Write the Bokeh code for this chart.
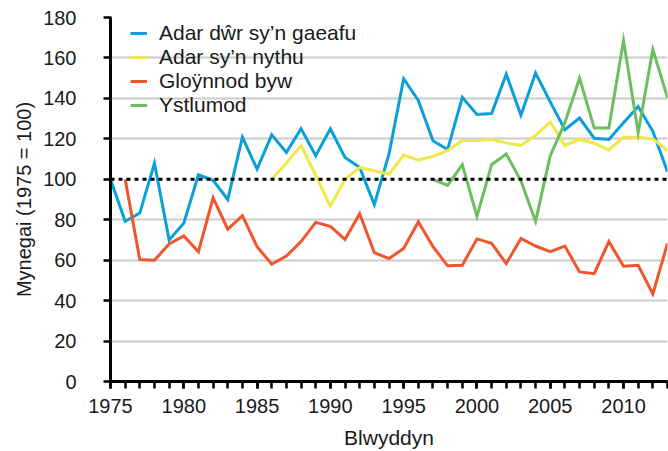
from bokeh.plotting import figure
from bokeh.models import Span, FixedTicker, Legend, LegendItem, Range1d, SingleIntervalTicker
from bokeh.embed import file_html
from bokeh.resources import INLINE

# ---- data ----
wintering_years = list(range(1975, 2014))
wintering = [100, 79.2, 83.3, 108, 70, 78.3, 102.2, 99.5, 90, 120.8,
             105, 122, 113.3, 125, 111.7, 125, 110.8, 105.8, 87.5, 112.5,
             149.7, 139, 119, 114.7, 140.5, 132, 132.5, 152, 131.7, 152.5,
             138.3, 124.5, 130.3, 120.3, 119.7, 128, 136, 123.7, 103.7]

breeding_years = list(range(1986, 2014))
breeding = [100, 108, 116.7, 102, 86.7, 100, 105.8, 104.2, 102.5, 112,
            109.5, 111.3, 114.2, 119.2, 119.2, 119.7, 118, 116.7, 121.7, 128.3,
            116.7, 119.7, 117.8, 114.5, 120.8, 120.8, 120, 114.2]

butterfly_years = list(range(1976, 2014))
butterflies = [100, 60.3, 60, 68, 72, 64.2, 90.8, 75.3, 82, 66.7,
               58, 62, 69.2, 78.7, 76.7, 70.3, 83, 63.7, 60.8, 65.8,
               79, 66.7, 57.2, 57.5, 70.5, 68.3, 58.3, 70.7, 67, 64.2,
               67, 54.2, 53.3, 69.2, 57, 57.5, 43.3, 68.3]

bat_years = list(range(1997, 2014))
bats = [100, 97, 107.2, 81.7, 107.2, 112.5, 99.2, 79.2, 111.7, 128,
        150, 125.3, 125.3, 168.7, 123, 164.2, 140.3]

labels = ["Adar dŵr sy’n gaeafu", "Adar sy’n nythu", "Gloÿnnod byw", "Ystlumod"]
colors = ["#0a9fdb", "#f0e84a", "#f2552c", "#6dbe5e"]
baseline = 100
y_ticks = [0, 20, 40, 60, 80, 100, 120, 140, 160, 180]

FONT = "Liberation Sans"
TXT = "#1a1a1a"

p = figure(width=668, height=451, output_backend="svg", toolbar_location=None,
           x_range=Range1d(1975, 2013), y_range=Range1d(0, 180),
           min_border_left=110, min_border_right=1, min_border_top=17,
           min_border_bottom=70)
p.outline_line_color = None
p.background_fill_color = "white"

# grid
p.xgrid.visible = False
p.ygrid.ticker = FixedTicker(ticks=[t for t in y_ticks if t != baseline])
p.ygrid.grid_line_color = "#cccccc"
p.ygrid.grid_line_width = 2

# axes
p.xaxis.ticker = SingleIntervalTicker(interval=5, num_minor_ticks=5)
p.yaxis.ticker = FixedTicker(ticks=y_ticks)
for ax in (p.xaxis[0], p.yaxis[0]):
    ax.axis_line_color = "black"
    ax.axis_line_width = 3
    ax.major_tick_line_color = "black"
    ax.major_tick_line_width = 2.5
    ax.major_tick_out = 7
    ax.major_tick_in = 1
    ax.major_label_text_font = FONT
    ax.major_label_text_font_size = "20px"
    ax.major_label_text_color = TXT
    ax.axis_label_text_font = FONT
    ax.axis_label_text_font_style = "normal"
    ax.axis_label_text_color = TXT
p.xaxis.minor_tick_line_color = "black"
p.xaxis.minor_tick_line_width = 2.5
p.xaxis.minor_tick_out = 7
p.xaxis.minor_tick_in = 1
p.yaxis.minor_tick_line_color = None
p.xaxis.major_label_standoff = 10
p.yaxis.major_label_standoff = 27
p.xaxis.axis_label = "Blwyddyn"
p.yaxis.axis_label = "Mynegai (1975 = 100)"
p.xaxis.axis_label_text_font_size = "21px"
p.yaxis.axis_label_text_font_size = "20px"
p.xaxis.axis_label_standoff = 10
p.yaxis.axis_label_standoff = 5

# baseline
p.add_layout(Span(location=baseline, dimension="width", line_color="black",
                  line_width=3, line_dash="4 4"))

series = [(wintering_years, wintering), (breeding_years, breeding),
          (butterfly_years, butterflies), (bat_years, bats)]
items = []
for (xs, ys), lab, col in zip(series, labels, colors):
    r = p.line(xs, ys, line_color=col, line_width=3, line_join="miter")
    items.append(LegendItem(label=lab, renderers=[r]))

legend = Legend(items=items, location=(20, 264), margin=0, padding=0,
                spacing=0, glyph_width=17, glyph_height=20, label_height=20,
                label_standoff=12, label_text_font=FONT,
                label_text_font_size="21px", label_text_color=TXT,
                background_fill_alpha=0, border_line_alpha=0)
p.add_layout(legend, "center")

open("out.html", "w").write(file_html(p, INLINE))
